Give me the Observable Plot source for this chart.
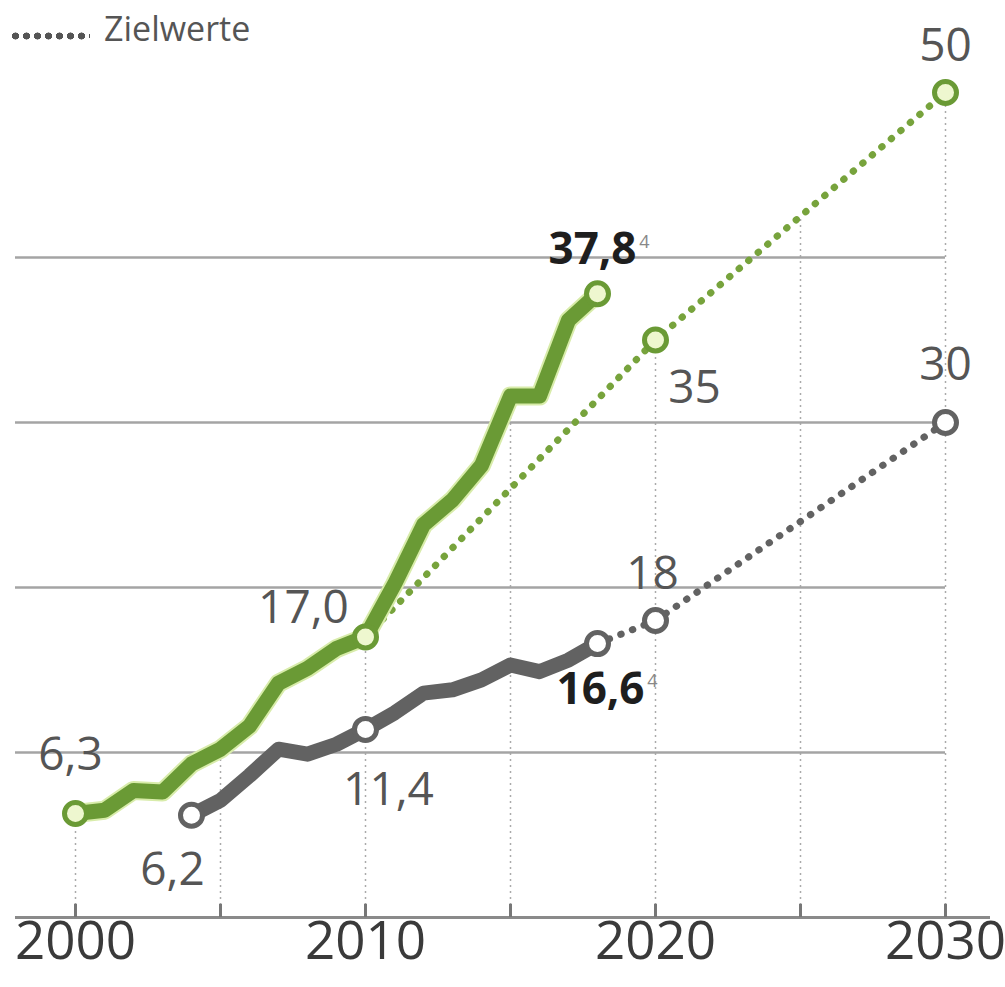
<!DOCTYPE html>
<html>
<head>
<meta charset="utf-8">
<script src="https://cdn.jsdelivr.net/npm/d3@7"></script>
<script src="https://cdn.jsdelivr.net/npm/@observablehq/plot@0.6"></script>
<style>
  html, body { margin: 0; padding: 0; background: #fff; overflow: hidden; }
  #wrap { position: relative; width: 1005px; height: 987px; }
  #legend { position: absolute; left: 10px; top: 2px; font-family: "Open Sans", sans-serif; font-size: 34px; line-height: 52px; color: #555; white-space: nowrap; }
  #legend .sw { display: inline-block; width: 80px; height: 10px; margin-right: 14px; vertical-align: baseline;
    background: radial-gradient(circle, #555 45%, transparent 50%) 0 0 / 11px 10px repeat-x; }
  svg { font-family: "Open Sans", sans-serif; }
</style>
</head>
<body>
<div id="wrap">
  <div id="chart"></div>
  <div id="legend"><span class="sw"></span>Zielwerte</div>
</div>
<script>
// ---- data ----
const greenYears = [2000,2001,2002,2003,2004,2005,2006,2007,2008,2009,2010,2011,2012,2013,2014,2015,2016,2017,2018];
const greenValues = [6.3,6.5,7.7,7.6,9.3,10.2,11.6,14.2,15.1,16.3,17.0,20.2,23.8,25.3,27.4,31.6,31.6,36.2,37.8];
const grayYears = [2004,2005,2006,2007,2008,2009,2010,2011,2012,2013,2014,2015,2016,2017,2018];
const grayValues = [6.2,7.1,8.6,10.2,9.9,10.5,11.4,12.4,13.6,13.8,14.4,15.3,14.9,15.6,16.6];
const greenTargetYears = [2010,2020,2030];
const greenTargetValues = [17.0,35,50];
const grayTargetYears = [2018,2020,2030];
const grayTargetValues = [16.6,18,30];
const greenMarkerYears = [2000,2010,2018];
const grayMarkerYears = [2004,2010,2018];
const gridValues = [10,20,30,40];
const gridYears = [2000,2005,2010,2015,2020,2025,2030];
const tickYears = [2000,2010,2020,2030];

// ---- tables ----
const green = greenYears.map((x,i)=>({x, y: greenValues[i]}));
const gray = grayYears.map((x,i)=>({x, y: grayValues[i]}));
const greenT = greenTargetYears.map((x,i)=>({x, y: greenTargetValues[i]}));
const grayT = grayTargetYears.map((x,i)=>({x, y: grayTargetValues[i]}));
const greenM = greenMarkerYears.map(x=>green.find(d=>d.x===x)).concat(greenT.slice(1));
const grayM = grayMarkerYears.map(x=>gray.find(d=>d.x===x)).concat(grayT.slice(1));
const upperPath = green.concat(greenT.slice(1));
function topAt(yr){
  const i = upperPath.findIndex(d=>d.x>=yr);
  const b = upperPath[i];
  if (b.x===yr) return b.y;
  const a = upperPath[i-1];
  return a.y + (b.y-a.y)*(yr-a.x)/(b.x-a.x);
}
const vgrid = gridYears.map(x=>({x, top: topAt(x)}));
const find = (arr, yr) => arr.find(d=>d.x===yr);

const GREEN = "#6a9a35", GREEN_T = "#77a33c", GRAY = "#626262";
const lab = {fontSize: 46, fill: "#555", fontWeight: 400};
const bold = {fontSize: 44, fill: "#1e1e1e", fontWeight: 700};

const chart = Plot.plot({
  width: 1005, height: 987,
  marginLeft: 15, marginRight: 15, marginTop: 92, marginBottom: 70,
  x: {domain: [2000, 2030], range: [75, 945], axis: null},
  y: {domain: [0, 50], axis: null},
  marks: [
    Plot.ruleX(vgrid, {x: "x", y1: 0, y2: "top", stroke: "#aaa", strokeWidth: 1.5, strokeDasharray: "2,4"}),
    Plot.ruleY(gridValues, {y: d=>d, stroke: "#a4a4a4", strokeWidth: 2.5, insetRight: 45}),
    Plot.ruleY([0], {stroke: "#8a8a8a", strokeWidth: 3}),
    Plot.ruleX(gridYears, {x: d=>d, y1: 0, y2: 0.8, stroke: "#777", strokeWidth: 3}),
    Plot.text(tickYears, {x: d=>d, text: d=>String(d), frameAnchor: "bottom", dy: 41, fontSize: 53, fill: "#3a3a3a"}),
    // target lines
    Plot.line(greenT, {x: "x", y: "y", stroke: GREEN_T, strokeWidth: 7, strokeDasharray: "0.5,12", strokeLinecap: "round"}),
    Plot.line(grayT, {x: "x", y: "y", stroke: GRAY, strokeWidth: 7, strokeDasharray: "0.5,12", strokeLinecap: "round"}),
    // actual lines
    Plot.line(gray, {x: "x", y: "y", stroke: GRAY, strokeWidth: 15, strokeLinejoin: "round"}),
    Plot.line(green, {x: "x", y: "y", stroke: "#d8ecaa", strokeWidth: 19, strokeLinejoin: "round"}),
    Plot.line(green, {x: "x", y: "y", stroke: GREEN, strokeWidth: 15, strokeLinejoin: "round"}),
    Plot.dot(grayM, {x: "x", y: "y", r: 11, fill: "#fff", stroke: GRAY, strokeWidth: 5}),
    Plot.dot(greenM, {x: "x", y: "y", r: 11, fill: "#eef7cf", stroke: GREEN, strokeWidth: 5}),
    // labels
    Plot.text([find(green,2000)], {x: "x", y: "y", text: ()=>"6,3", dx: -5, dy: -58, ...lab}),
    Plot.text([find(gray,2004)], {x: "x", y: "y", text: ()=>"6,2", dx: -19, dy: 55, ...lab}),
    Plot.text([find(green,2010)], {x: "x", y: "y", text: ()=>"17,0", dx: -62, dy: -29, ...lab}),
    Plot.text([find(gray,2010)], {x: "x", y: "y", text: ()=>"11,4", dx: 23, dy: 61, ...lab}),
    Plot.text([find(green,2018)], {x: "x", y: "y", text: ()=>"37,8", dx: -5, dy: -44, ...bold}),
    Plot.text([find(green,2018)], {x: "x", y: "y", text: ()=>"4", dx: 47, dy: -52, fontSize: 18, fill: "#888"}),
    Plot.text([find(gray,2018)], {x: "x", y: "y", text: ()=>"16,6", dx: 3, dy: 46, ...bold}),
    Plot.text([find(gray,2018)], {x: "x", y: "y", text: ()=>"4", dx: 55, dy: 38, fontSize: 18, fill: "#888"}),
    Plot.text([find(greenT,2020)], {x: "x", y: "y", text: ()=>"35", dx: 39, dy: 48, ...lab}),
    Plot.text([find(grayT,2020)], {x: "x", y: "y", text: ()=>"18", dx: -3, dy: -46, ...lab}),
    Plot.text([find(grayT,2030)], {x: "x", y: "y", text: ()=>"30", dy: -57, ...lab}),
    Plot.text([find(greenT,2030)], {x: "x", y: "y", text: ()=>"50", dy: -46, ...lab})
  ]
});
document.getElementById("chart").appendChild(chart);
</script>
</body>
</html>
